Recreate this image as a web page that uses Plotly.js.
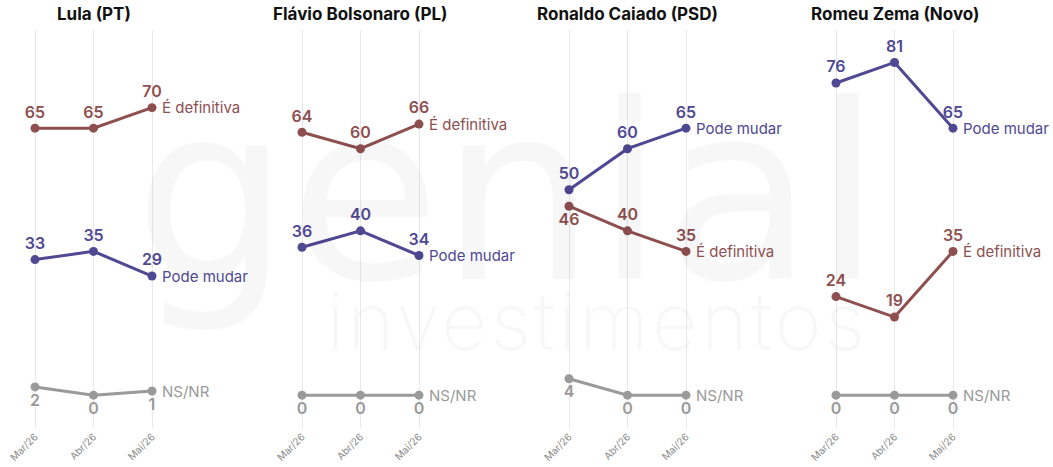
<!DOCTYPE html>
<html>
<head>
<meta charset="utf-8">
<script src="https://cdn.plot.ly/plotly-3.0.1.min.js"></script>
<style>
html,body{margin:0;padding:0;background:#fff;}
#chart{width:1053px;height:467px;}
</style>
</head>
<body>
<div id="chart"></div>
<script>
const months = ['Mar/26', 'Abr/26', 'Mai/26'];
const candidates = ['Lula (PT)', 'Flávio Bolsonaro (PL)', 'Ronaldo Caiado (PSD)', 'Romeu Zema (Novo)'];
const seriesNames = ['É definitiva', 'Pode mudar', 'NS/NR'];
const definitiva = [[65, 65, 70], [64, 60, 66], [46, 40, 35], [24, 19, 35]];
const podeMudar  = [[33, 35, 29], [36, 40, 34], [50, 60, 65], [76, 81, 65]];
const nsnr       = [[2, 0, 1], [0, 0, 0], [4, 0, 0], [0, 0, 0]];

const colors = ['#8e4f4f', '#4f4893', '#9a9a9a'];
const FONT = 'Inter, "Open Sans", sans-serif';

// label positions (styling, not data)
const defPos = [
  ['top center','top center','top center'],
  ['top center','top center','top center'],
  ['bottom center','top center','top center'],
  ['top center','top center','top center']
];

const W = 1053, PH = 398, PT = 30;
const step = 58.5;
const x0s = [35, 302, 569, 836];
const leftPad = 35, rightPad = 215;

const traces = [];
const layout = {
  width: 1053, height: 467,
  margin: {l: 0, r: 0, t: PT, b: 39},
  paper_bgcolor: '#ffffff',
  plot_bgcolor: 'rgba(0,0,0,0)',
  showlegend: false,
  font: {family: FONT},
  annotations: []
};

// watermark
layout.annotations.push({
  xref: 'paper', yref: 'paper', x: 508/W, y: (PT + PH - 195)/PH, xanchor: 'center', yanchor: 'middle',
  text: 'genial', showarrow: false,
  font: {family: '"DejaVu Sans", sans-serif', size: 245, color: 'rgba(0,0,0,0.032)'}
});
layout.annotations.push({
  xref: 'paper', yref: 'paper', x: 597/W, y: (PT + PH - 320)/PH, xanchor: 'center', yanchor: 'middle',
  text: 'investimentos', showarrow: false,
  font: {family: 'Inter, sans-serif', size: 80, color: 'rgba(0,0,0,0.032)', weight: 200}
});

for (let k = 0; k < 4; k++) {
  const sfx = k === 0 ? '' : String(k + 1);
  const xa = 'x' + sfx, ya = 'y' + sfx;
  const x0 = x0s[k];
  layout['xaxis' + sfx] = {
    domain: [(x0 - leftPad) / W, Math.min(1, (x0 + rightPad) / W)],
    range: [-leftPad / step, rightPad / step],
    type: 'category',
    showgrid: true, gridcolor: '#e8e8e8', gridwidth: 1,
    zeroline: false, showline: false, ticks: '',
    tickangle: -45, tickfont: {size: 10, color: '#8a8a8a', family: FONT},
    automargin: false, fixedrange: true
  };
  layout['yaxis' + sfx] = {
    anchor: xa,
    domain: [0, 1],
    range: [-8, 88.9],
    showgrid: false, zeroline: false, showline: false, showticklabels: false, ticks: '',
    fixedrange: true
  };
  const sets = [definitiva[k], podeMudar[k], nsnr[k]];
  const positions = [defPos[k], ['top center','top center','top center'], ['bottom center','bottom center','bottom center']];
  for (let s = 0; s < 3; s++) {
    traces.push({
      type: 'scatter', mode: 'lines+markers+text',
      x: months, y: sets[s],
      xaxis: xa, yaxis: ya,
      line: {color: colors[s], width: 3},
      marker: {color: colors[s], size: 9},
      text: sets[s].map(String),
      textposition: positions[s],
      textfont: {family: FONT, size: 16, color: colors[s], weight: 600},
      cliponaxis: false,
      hoverinfo: 'skip'
    });
    layout.annotations.push({
      xref: xa, yref: ya, x: 2, y: sets[s][2],
      xanchor: 'left', yanchor: 'middle', xshift: 8,
      text: seriesNames[s], showarrow: false,
      font: {family: FONT, size: 15, color: colors[s]}
    });
  }
  layout.annotations.push({
    xref: xa, yref: 'paper', x: 1, y: 1, yshift: 16,
    xanchor: 'center', yanchor: 'middle',
    text: '<b>' + candidates[k] + '</b>', showarrow: false,
    font: {family: FONT, size: 17, color: '#111111'}
  });
}

Plotly.newPlot('chart', traces, layout, {displayModeBar: false, staticPlot: true}).then(function () {
  document.querySelectorAll('.annotation-text').forEach(function (el) {
    if (el.textContent === 'investimentos') el.style.letterSpacing = '3px';
  });
});
</script>
</body>
</html>
